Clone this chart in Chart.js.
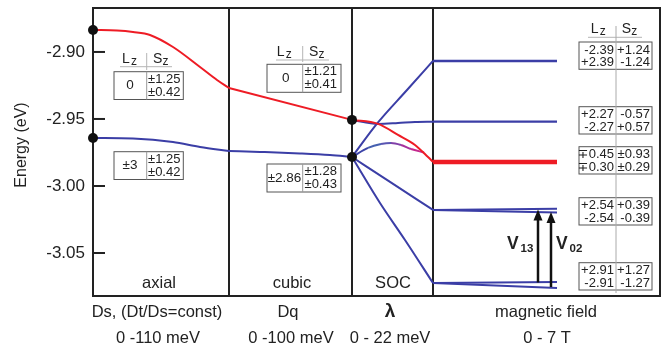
<!DOCTYPE html>
<html><head><meta charset="utf-8">
<script src="https://cdn.jsdelivr.net/npm/chart.js@4/dist/chart.umd.min.js"></script>
<style>html,body{margin:0;padding:0;background:#fff}canvas{display:block}</style>
</head><body>
<canvas id="c" width="667" height="347"></canvas>
<script>
// x = position along the diagram; panels: axial | cubic | SOC | magnetic field
const panelBounds = [0, 136, 259, 340, 567];
const yTicks = [-2.90, -2.95, -3.00, -3.05];
const yMin = -3.0821, yMax = -2.8672;

const axialUpperX = [0, 24, 40, 57, 80, 107, 124, 136];
const axialUpperE = [-2.8836, -2.8840, -2.8851, -2.8873, -2.8963, -2.9112, -2.9209, -2.9269];
const axialLowerX = [0, 40, 80, 107, 136];
const axialLowerE = [-2.9642, -2.9646, -2.9672, -2.9709, -2.9739];
const cubicUpperX = [136, 259];
const cubicUpperE = [-2.9269, -2.9507];
const cubicLowerX = [136, 167, 207, 237, 259];
const cubicLowerE = [-2.9739, -2.9746, -2.9757, -2.9769, -2.9784];
const socRedX = [259, 285, 305, 322, 335, 340];
const socRedE = [-2.9507, -2.9537, -2.9619, -2.9694, -2.9784, -2.9821];
const socFlatX = [259, 285, 305, 322, 340];
const socFlatE = [-2.9507, -2.9537, -2.9530, -2.9522, -2.9520];
const socRiseX = [259, 284, 314, 340];
const socRiseE = [-2.9784, -2.9535, -2.9284, -2.9067];
const socArcX = [259, 275, 288, 298, 308, 318, 331];
const socArcE = [-2.9784, -2.9716, -2.9687, -2.9679, -2.9694, -2.9724, -2.9750];
const socMidX = [259, 297, 340];
const socMidE = [-2.9784, -2.9970, -3.0179];
const socLowX = [259, 287, 312, 340];
const socLowE = [-2.9784, -3.0127, -3.0403, -3.0724];
const fieldX = [340, 464];
const fieldTopE = [-2.9067, -2.9067];
const fieldSecondE = [-2.9520, -2.9520];
const fieldRedE = [-2.9821, -2.9821];
const fieldThirdAE = [-3.0179, -3.0170];
const fieldThirdBE = [-3.0179, -3.0198];
const fieldLowAE = [-3.0724, -3.0716];
const fieldLowBE = [-3.0724, -3.0761];
const dotX = [0, 0, 259, 259];
const dotE = [-2.8836, -2.9642, -2.9507, -2.9784];
const arrowNames = ['13', '02'];
const arrowX = [445, 458];
const arrowFromE = [-3.0720, -3.0754];
const arrowToE = [-3.0175, -3.0194];

const panelNames = ['axial', 'cubic', 'SOC'];
const paramNames = ['Ds, (Dt/Ds=const)', 'Dq', 'λ', 'magnetic field'];
const paramRanges = ['0 -110 meV', '0 -100 meV', '0 - 22 meV', '0 - 7 T'];
const axialLz = ['0', '±3'];
const axialSz = [['±1.25', '±0.42'], ['±1.25', '±0.42']];
const cubicLz = ['0', '±2.86'];
const cubicSz = [['±1.21', '±0.41'], ['±1.28', '±0.43']];
const fieldLz = [['-2.39', '+2.39'], ['+2.27', '-2.27'], ['∓0.45', '∓0.30'], ['+2.54', '-2.54'], ['+2.91', '-2.91']];
const fieldSz = [['+1.24', '-1.24'], ['-0.57', '+0.57'], ['±0.93', '±0.29'], ['+0.39', '-0.39'], ['+1.27', '-1.27']];

const BLUE = '#3b3ea6', RED = '#ee1c25', INK = '#222';
const FONT = "'Liberation Sans', Arial, 'DejaVu Sans', sans-serif";
Chart.defaults.font.family = FONT;

const pts = (xs, es) => xs.map((x, i) => ({x, y: es[i]}));
function line(xs, es, color, w) {
  return {data: pts(xs, es), showLine: true, borderColor: color, borderWidth: w || 2,
    pointRadius: 0, cubicInterpolationMode: 'monotone', fill: false};
}
const arcColors = ['#3d44a8', '#4660b0', '#5a55b2', '#8040a8', '#a8309c', '#c4288e'];

const datasets = [
  {data: pts(dotX, dotE), showLine: false, pointRadius: 5, backgroundColor: '#111', borderWidth: 0, clip: false},
  line(axialUpperX, axialUpperE, RED),
  line(cubicUpperX, cubicUpperE, RED),
  line(socRedX, socRedE, RED),
  line(fieldX, fieldRedE, RED, 4.5),
  Object.assign(line(socArcX, socArcE, '#7a3aa8'), {segment: {borderColor: c => arcColors[c.p0DataIndex]}}),
  line(axialLowerX, axialLowerE, BLUE),
  line(cubicLowerX, cubicLowerE, BLUE),
  line(socFlatX, socFlatE, BLUE),
  line(socRiseX, socRiseE, BLUE),
  line(socMidX, socMidE, BLUE),
  line(socLowX, socLowE, BLUE),
  line(fieldX, fieldTopE, BLUE, 2.4),
  line(fieldX, fieldSecondE, BLUE, 2.4),
  line(fieldX, fieldThirdAE, BLUE, 2),
  line(fieldX, fieldThirdBE, BLUE, 2),
  line(fieldX, fieldLowAE, BLUE, 2),
  line(fieldX, fieldLowBE, BLUE, 2)
];

function txt(ctx, s, x, y, size, align, weight, base) {
  ctx.font = (weight || 'normal') + ' ' + size + 'px ' + FONT;
  ctx.textAlign = align || 'center';
  ctx.textBaseline = base || 'middle';
  ctx.fillStyle = INK;
  ctx.fillText(s, x, y);
}
function seg(ctx, x1, y1, x2, y2, color, w) {
  ctx.beginPath(); ctx.moveTo(x1, y1); ctx.lineTo(x2, y2);
  ctx.strokeStyle = color; ctx.lineWidth = w; ctx.stroke();
}
function header(ctx, lx, sx, base, ulx1, ulx2, uly) {
  txt(ctx, 'L', lx, base, 14, 'left', 'normal', 'alphabetic');
  txt(ctx, 'z', lx + 9, base + 2, 12, 'left', 'normal', 'alphabetic');
  txt(ctx, 'S', sx, base, 14, 'left', 'normal', 'alphabetic');
  txt(ctx, 'z', sx + 9.5, base + 2, 12, 'left', 'normal', 'alphabetic');
  seg(ctx, ulx1, uly, ulx2, uly, '#b5b5b5', 1);
}
function box(ctx, x1, y1, x2, y2, div) {
  ctx.fillStyle = '#fff'; ctx.fillRect(x1, y1, x2 - x1, y2 - y1);
  ctx.strokeStyle = '#555'; ctx.lineWidth = 1; ctx.strokeRect(x1, y1, x2 - x1, y2 - y1);
  if (div) seg(ctx, div, y1, div, y2, '#999', 1);
}

const decor = {
  id: 'decor',
  beforeDatasetsDraw(chart) {
    const {ctx, chartArea: a, scales: {x, y}} = chart;
    ctx.save();
    ctx.strokeStyle = INK; ctx.lineWidth = 2;
    ctx.strokeRect(a.left, a.top, a.right - a.left, a.bottom - a.top);
    for (let i = 1; i < panelBounds.length - 1; i++) {
      const px = x.getPixelForValue(panelBounds[i]);
      seg(ctx, px, a.top, px, a.bottom, INK, 2);
    }
    yTicks.forEach(v => { const py = y.getPixelForValue(v); seg(ctx, a.left, py, a.left + 12, py, INK, 2); });
    ctx.restore();
  },
  afterDatasetsDraw(chart) {
    const {ctx, chartArea: a, scales: {x, y}} = chart;
    ctx.save();
    // y title
    ctx.save(); ctx.translate(22, 145); ctx.rotate(-Math.PI / 2);
    txt(ctx, 'Energy (eV)', 0, 0, 16); ctx.restore();
    // panel names inside
    const cx = i => (x.getPixelForValue(panelBounds[i]) + x.getPixelForValue(panelBounds[i + 1])) / 2;
    const inner = [159, 292, 393];
    panelNames.forEach((s, i) => txt(ctx, s, inner[i], 287.5, 16.5, 'center', 'normal', 'alphabetic'));
    const outer = [157, 288, 390, 546];
    const outer2 = [158, 291, 390, 547];
    paramNames.forEach((s, i) => txt(ctx, s, outer[i], 317, i === 2 ? 19 : 16.5, 'center', i === 2 ? 'bold' : 'normal', 'alphabetic'));
    paramRanges.forEach((s, i) => txt(ctx, s, outer2[i], 343, 16.5, 'center', 'normal', 'alphabetic'));
    // axial tables
    header(ctx, 122, 153, 62.7, 120, 172, 66.7);
    seg(ctx, 146.7, 53, 146.7, 70, '#b5b5b5', 1);
    const axTop = [71.7, 151.7];
    axTop.forEach((t, i) => {
      box(ctx, 114, t, 183.3, t + 27.8, 146.7);
      txt(ctx, axialLz[i], 130, t + 14, 13.5);
      txt(ctx, axialSz[i][0], 148, t + 7.5, 13, 'left');
      txt(ctx, axialSz[i][1], 148, t + 20.5, 13, 'left');
    });
    // cubic tables
    header(ctx, 276.7, 309, 56, 276, 329, 60);
    seg(ctx, 302.7, 46, 302.7, 62, '#b5b5b5', 1);
    const cuTop = [64.3, 164];
    const cuLzX = [285.7, 284.5];
    cuTop.forEach((t, i) => {
      box(ctx, 267, t, 341, t + 28, 302.7);
      txt(ctx, cubicLz[i], cuLzX[i], t + 14, 13.5);
      txt(ctx, cubicSz[i][0], 304.5, t + 7.5, 13, 'left');
      txt(ctx, cubicSz[i][1], 304.5, t + 20.5, 13, 'left');
    });
    // field tables
    header(ctx, 590.7, 621.7, 33, 588, 642, 37.3);
    const fTop = [42, 106.7, 146.7, 197.7, 262.7];
    fTop.forEach((t, i) => {
      box(ctx, 579, t, 652, t + 27.3, null);
      txt(ctx, fieldLz[i][0], 614, t + 8, 13, 'right');
      txt(ctx, fieldLz[i][1], 614, t + 20.5, 13, 'right');
      txt(ctx, fieldSz[i][0], 650, t + 8, 13, 'right');
      txt(ctx, fieldSz[i][1], 650, t + 20.5, 13, 'right');
    });
    seg(ctx, 616, 26, 616, 293, '#aaa', 1);
    // transition arrows
    const lblX = [507, 556];
    arrowNames.forEach((n, i) => {
      const px = x.getPixelForValue(arrowX[i]);
      const y1 = y.getPixelForValue(arrowFromE[i]), y2 = y.getPixelForValue(arrowToE[i]);
      seg(ctx, px, y1, px, y2 + 9, '#111', 2.5);
      ctx.beginPath(); ctx.moveTo(px, y2); ctx.lineTo(px - 4.5, y2 + 11); ctx.lineTo(px + 4.5, y2 + 11); ctx.closePath();
      ctx.fillStyle = '#111'; ctx.fill();
      txt(ctx, 'V', lblX[i], 249, 17.5, 'left', 'bold', 'alphabetic');
      txt(ctx, n, lblX[i] + 13.5, 251.5, 11.5, 'left', 'bold', 'alphabetic');
    });
    ctx.restore();
  }
};

new Chart(document.getElementById('c'), {
  type: 'scatter',
  data: {datasets},
  options: {
    responsive: false, animation: false, events: [],
    layout: {padding: {left: 0, top: 8, right: 7, bottom: 51}},
    plugins: {legend: {display: false}, tooltip: {enabled: false}},
    scales: {
      x: {type: 'linear', min: panelBounds[0], max: panelBounds[panelBounds.length - 1], display: false},
      y: {
        min: yMin, max: yMax,
        afterFit(s) { s.width = 93; s.paddingTop = 0; s.paddingBottom = 0; },
        afterBuildTicks(s) { s.ticks = yTicks.map(v => ({value: v})); },
        ticks: {callback: v => v.toFixed(2), padding: 8, font: {size: 17}, color: INK},
        grid: {display: false, drawTicks: false},
        border: {display: false}
      }
    }
  },
  plugins: [decor]
});
</script>
</body></html>
